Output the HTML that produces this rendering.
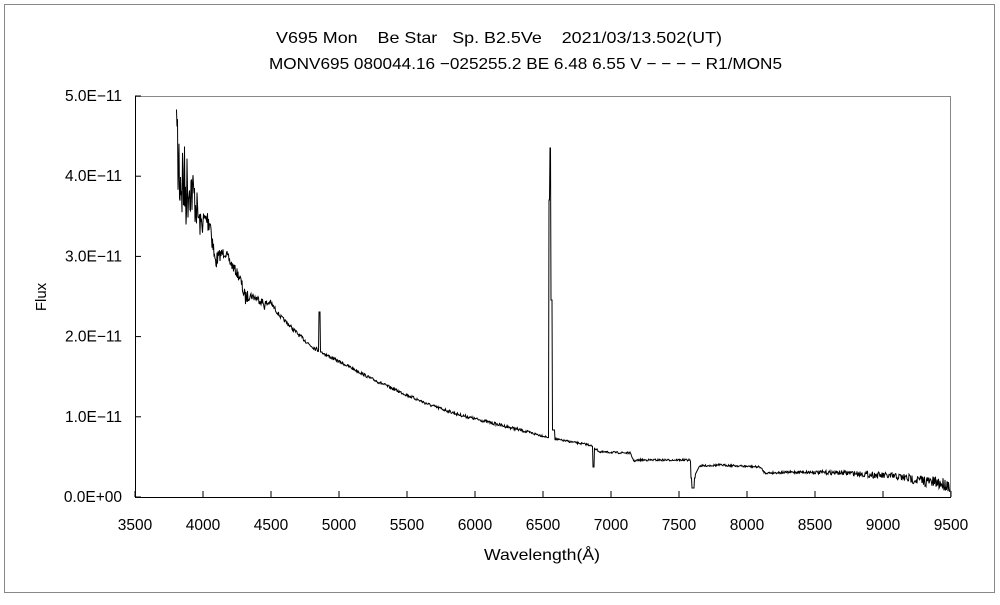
<!DOCTYPE html>
<html><head><meta charset="utf-8"><style>
body{margin:0;background:#fff;width:1000px;height:600px;overflow:hidden}
svg text{font-family:"Liberation Sans","Noto Sans CJK JP",sans-serif;fill:#000}
</style></head><body>
<svg id="s" width="1000" height="600" xmlns="http://www.w3.org/2000/svg">
<rect x="4.5" y="4.5" width="990" height="588" fill="none" stroke="#888"/>
<text x="276" y="43" font-size="16" textLength="446" lengthAdjust="spacingAndGlyphs" xml:space="preserve">V695 Mon    Be Star   Sp. B2.5Ve    2021/03/13.502(UT)</text>
<text x="269" y="69" font-size="16" textLength="513" lengthAdjust="spacingAndGlyphs">MONV695 080044.16 −025255.2 BE 6.48 6.55 V − − − − R1/MON5</text>
<line x1="135" y1="96.5" x2="951" y2="96.5" stroke="#888"/>
<line x1="950.5" y1="96" x2="950.5" y2="497" stroke="#888"/>
<line x1="135.5" y1="96" x2="135.5" y2="497" stroke="#000"/>
<line x1="135" y1="497.5" x2="951" y2="497.5" stroke="#000"/>
<g id="ax" font-size="15.5"></g>
<text x="484" y="560" font-size="16" textLength="116" lengthAdjust="spacingAndGlyphs">Wavelength(Å)</text>
<text x="46" y="297" font-size="15" text-anchor="middle" transform="rotate(-90 46 297)">Flux</text>
<polyline id="sp" fill="none" stroke="#000" stroke-width="1"/>
</svg>
<script>
var ax=document.getElementById('ax'),h='';
var ylab=['0.0E+00','1.0E−11','2.0E−11','3.0E−11','4.0E−11','5.0E−11'];
for(var i=0;i<6;i++){var y=497-i*80.2;h+='<line x1="135" y1="'+y+'" x2="141" y2="'+y+'" stroke="#000"/><text x="122" y="'+(y+5)+'" text-anchor="end">'+ylab[i]+'</text>';}
for(var i=0;i<=12;i++){var x=135+i*68;h+='<line x1="'+x+'" y1="491" x2="'+x+'" y2="497" stroke="#000"/><text x="'+x+'" y="530" text-anchor="middle">'+(3500+i*500)+'</text>';}
ax.innerHTML=h;
var A=[[176,150,70],[180,170,60],[185,190,45],[190,185,30],[195,200,25],[200,225,12],[205,220,12],[210,220,14],[215,262,10],[220,255,6],[225,252,5],[230,262,5],[240,278,5],[245,298,8],[250,295,4],[260,300,4],[265,305,6],[270,302,3],[280,316,2],[290,326,2],[300,336,2],[310,345,2],[318,350,2],[330,357,1.5],[350,367,1.5],[370,378,1.5],[400,392,1.5],[430,405,1.5],[460,415,1.5],[500,425,1.5],[520,430,1.5],[547,437,1],[560,440,1],[590,445,1],[600,452,1],[630,453,1],[634,461,1],[640,460,1],[689,460,1],[700,466,1],[720,465,1],[760,467,1],[765,473,1],[800,472,1.5],[850,473,2.5],[900,477,4],[950,485,7]];
var seed=7;function r(){seed=(seed*16807)%2147483647;return seed/2147483647-0.5;}
function base(x){for(var i=0;i<A.length-1;i++){if(x<=A[i+1][0]){var t=(x-A[i][0])/(A[i+1][0]-A[i][0]);return [A[i][1]+t*(A[i+1][1]-A[i][1]),A[i][2]+t*(A[i+1][2]-A[i][2])];}}return [485,5];}
var p=[];
for(var x=176;x<=950;x+=0.5){var b=base(x),y=b[0]+r()*b[1]*2;
if(x>=176&&x<177)y=110;
if(x>=319&&x<=320)y=312;if(x>320&&x<=322)y=352;
if(x>=549&&x<=549.5)y=200;if(x>=550&&x<=550.5)y=148;if(x>=551&&x<=552)y=300;if(x>552&&x<555)y=430;
if(x>=593&&x<=594)y=467;
if(x>=691&&x<=695)y=478+ (x>=692&&x<=694?10:0);if(x>695&&x<=699)y=475-(x-695)*2;
p.push(x+','+y.toFixed(1));}
document.getElementById('sp').setAttribute('points',p.join(' '));
</script>
</body></html>
